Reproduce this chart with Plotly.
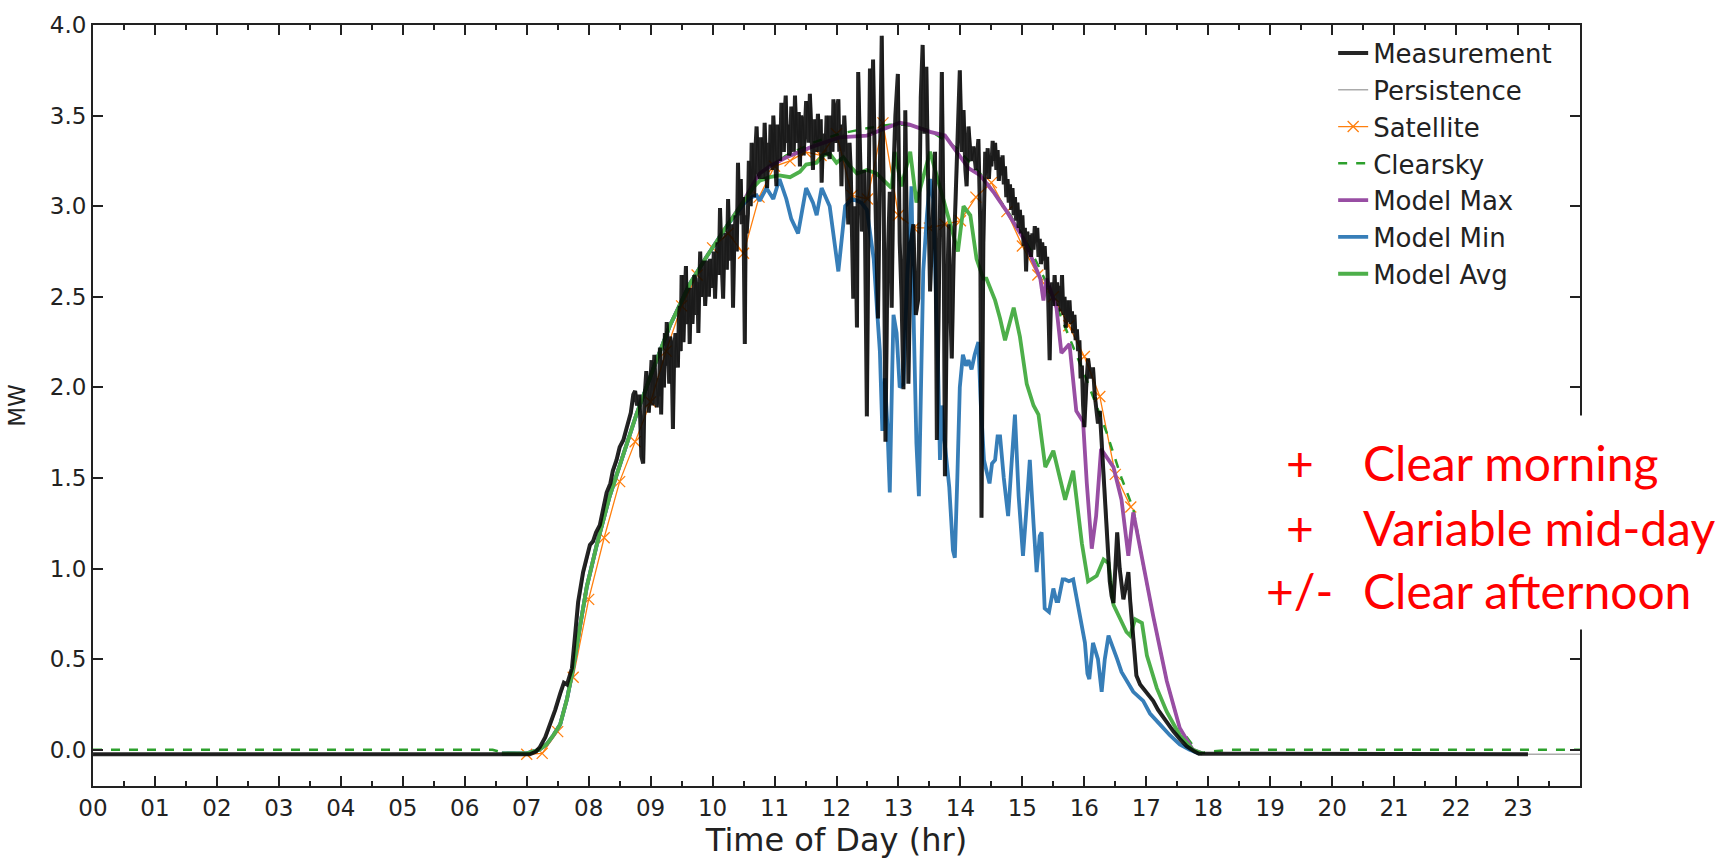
import plotly.graph_objects as go

# ---------------- data ----------------
hour_labels = ["%02d" % h for h in range(24)]

meas_hours = [0.0, 7.05, 7.15, 7.21, 7.30, 7.38, 7.46, 7.54, 7.60, 7.65, 7.70, 7.73, 7.78, 7.83, 7.91, 7.97,
              8.02, 8.07, 8.12, 8.18, 8.24, 8.29, 8.35, 8.39, 8.45, 8.50, 8.56, 8.61, 8.68, 8.72, 8.75, 8.78,
              8.82, 8.85, 8.88, 8.90, 8.93, 8.97,
              9.00, 9.015, 9.03, 9.045, 9.06, 9.08, 9.10, 9.12, 9.135, 9.15, 9.17, 9.185, 9.20, 9.215, 9.23,
              9.245, 9.26, 9.28, 9.30, 9.315, 9.33, 9.345, 9.36, 9.38, 9.40, 9.42, 9.44, 9.455, 9.47, 9.485,
              9.50, 9.515, 9.53, 9.55, 9.57, 9.585, 9.60, 9.615, 9.63, 9.645, 9.66, 9.675, 9.69, 9.705, 9.72,
              9.74, 9.755, 9.77, 9.785, 9.80, 9.82, 9.84, 9.86, 9.88, 9.90, 9.92, 9.94, 9.96, 9.98, 10.00,
              10.02, 10.04, 10.06, 10.08, 10.10, 10.12, 10.145, 10.17, 10.19, 10.21, 10.23, 10.25, 10.27,
              10.29, 10.31, 10.33, 10.35, 10.37, 10.39, 10.41, 10.425, 10.44, 10.455, 10.47, 10.495, 10.52,
              10.535, 10.55, 10.57, 10.585, 10.60, 10.615, 10.63, 10.65, 10.67, 10.69, 10.71, 10.735, 10.76,
              10.78, 10.80, 10.82, 10.84, 10.86, 10.88, 10.90, 10.92, 10.935, 10.95, 10.965, 10.98, 11.005,
              11.03, 11.05, 11.07, 11.09, 11.11, 11.13, 11.15, 11.165, 11.18, 11.20, 11.22, 11.235, 11.25,
              11.27, 11.29, 11.31, 11.33, 11.35, 11.37, 11.39, 11.41, 11.43, 11.45, 11.47, 11.49, 11.51,
              11.53, 11.55, 11.57, 11.595, 11.62, 11.64, 11.66, 11.68, 11.70, 11.715, 11.73, 11.745, 11.76,
              11.78, 11.80, 11.82, 11.84, 11.865, 11.89, 11.905, 11.92, 11.935, 11.95, 11.97, 11.99, 12.01,
              12.03, 12.045, 12.06, 12.08, 12.095, 12.11, 12.125, 12.14, 12.155, 12.17, 12.19, 12.21, 12.23,
              12.27, 12.30, 12.33, 12.35, 12.38,
              12.41, 12.45, 12.49, 12.52, 12.54, 12.57, 12.59, 12.63, 12.67, 12.70, 12.73, 12.76, 12.79, 12.82,
              12.86, 12.89, 12.92, 12.95, 12.99, 13.02, 13.05, 13.08, 13.11, 13.14, 13.16, 13.20, 13.24, 13.28,
              13.32, 13.36, 13.39, 13.42, 13.45, 13.48, 13.51, 13.55, 13.59, 13.62, 13.64, 13.67, 13.70, 13.73,
              13.75, 13.78, 13.81, 13.84, 13.86, 13.89, 13.93, 13.96, 13.99, 14.02, 14.05, 14.08, 14.10, 14.13,
              14.17, 14.21, 14.25, 14.29, 14.32, 14.34, 14.37,
              14.40, 14.42, 14.44, 14.46, 14.48, 14.50, 14.52, 14.54, 14.56, 14.58, 14.60, 14.62, 14.64, 14.66,
              14.68, 14.70, 14.72, 14.74, 14.76, 14.78, 14.80, 14.82, 14.84, 14.86, 14.88, 14.90, 14.92, 14.94,
              14.96, 14.98, 15.00, 15.02, 15.04, 15.06, 15.08, 15.10, 15.12, 15.14, 15.16, 15.18, 15.20, 15.22,
              15.24, 15.26, 15.28, 15.30, 15.32, 15.34, 15.36, 15.38, 15.40, 15.42, 15.44, 15.46, 15.48, 15.50,
              15.52, 15.54, 15.56, 15.58, 15.60, 15.62, 15.64, 15.66, 15.68, 15.70, 15.72, 15.74, 15.76, 15.78,
              15.80, 15.82, 15.84, 15.86, 15.88, 15.90, 15.92, 15.94, 15.96, 15.98, 16.00,
              16.03, 16.06, 16.10, 16.14, 16.17, 16.19, 16.22, 16.25, 16.28, 16.31, 16.36, 16.41, 16.44, 16.47,
              16.50, 16.53, 16.57, 16.60, 16.63, 16.67, 16.71, 16.74, 16.76, 16.80, 16.84, 16.90, 16.95, 17.03,
              17.11, 17.19, 17.27, 17.35, 17.44, 17.54, 17.65, 17.78, 17.85, 23.16]
meas_mw = [-0.025, -0.025, -0.01, 0.013, 0.07, 0.14, 0.22, 0.31, 0.37, 0.36, 0.42, 0.45, 0.63, 0.815, 0.98, 1.06,
           1.13, 1.15, 1.20, 1.24, 1.33, 1.42, 1.47, 1.54, 1.60, 1.67, 1.71, 1.78, 1.86, 1.96, 1.98, 1.90,
           1.96, 1.62, 1.58, 1.93, 2.09, 1.86,
           2.05, 2.15, 1.90, 2.10, 2.18, 2.00, 1.89, 2.05, 1.95, 2.22, 1.85, 2.15, 2.10, 2.00, 2.30,
           2.12, 2.36, 2.15, 2.02, 2.28, 2.25, 2.05, 1.77, 2.20, 2.30, 2.15, 2.11, 2.38, 2.45, 2.20,
           2.62, 2.40, 2.25, 2.50, 2.67, 2.35, 2.40, 2.55, 2.24, 2.45, 2.55, 2.35, 2.48, 2.62, 2.60,
           2.40, 2.58, 2.30, 2.55, 2.75, 2.50, 2.55, 2.70, 2.45, 2.60, 2.70, 2.50, 2.71, 2.60, 2.55,
           2.75, 2.49, 2.70, 2.80, 2.62, 2.99, 2.70, 2.49, 2.80, 2.85, 2.65, 3.04, 2.80,
           2.70, 2.90, 2.44, 2.80, 2.95, 2.75, 3.24, 3.00, 2.95, 3.15, 2.90, 3.05, 2.24,
           2.95, 2.85, 2.96, 3.25, 3.20, 3.00, 3.35, 3.18, 3.05, 3.30, 3.44, 3.20, 3.15,
           3.38, 3.35, 3.15, 3.46, 3.25, 3.10, 3.35, 3.22, 3.45, 3.40, 3.20, 3.50, 3.30,
           3.11, 3.45, 3.40, 3.25, 3.57, 3.35, 3.30, 3.52, 3.61, 3.35, 3.45, 3.28, 3.30,
           3.55, 3.50, 3.30, 3.61, 3.40, 3.35, 3.52, 3.22, 3.50, 3.45, 3.28, 3.39, 3.58,
           3.55, 3.35, 3.62, 3.40, 3.20, 3.48, 3.40, 3.30, 3.51, 3.35, 3.30, 3.48, 3.13,
           3.35, 3.40, 3.28, 3.50, 3.35, 3.26, 3.50, 3.45, 3.30, 3.59, 3.40, 3.35, 3.55,
           3.59, 3.30, 3.45, 3.11, 3.40, 3.30, 3.50, 3.39, 3.20, 3.10, 2.90, 3.35, 3.20,
           2.49, 3.00, 2.33, 3.74, 3.30,
           2.86, 3.20, 1.84, 3.10, 3.76, 3.40, 3.81, 3.00, 2.38, 3.20, 3.94, 3.10, 1.70, 2.62,
           3.08, 2.44, 3.20, 3.50, 3.73, 2.80, 2.49, 1.99, 3.53, 2.70, 2.02, 2.80, 2.90, 2.40,
           2.49, 3.60, 3.89, 3.40, 3.77, 3.10, 2.53, 2.90, 3.30, 1.71, 2.16, 3.00, 3.74, 2.80,
           1.51, 2.40, 2.90, 2.40, 2.16, 2.71, 3.10, 3.40, 3.75, 3.30, 3.53, 3.20, 3.11, 3.44,
           3.25, 3.33, 3.20, 3.37, 2.90, 1.28, 2.80,
           3.30, 3.18, 3.32, 3.15, 3.28, 3.22, 3.36, 3.25, 3.35, 3.20, 3.31, 3.14, 3.27, 3.17,
           3.28, 3.12, 3.22, 3.05, 3.15, 3.02, 3.12, 2.98, 3.10, 2.95, 3.05, 2.92, 3.02, 2.88,
           2.98, 2.85, 2.95, 2.78, 2.88, 2.64, 2.86, 2.75, 2.84, 2.72, 2.85, 2.76, 2.89, 2.80,
           2.88, 2.72, 2.82, 2.68, 2.80, 2.70, 2.78, 2.65, 2.72, 2.50, 2.15, 2.48, 2.58, 2.45,
           2.62, 2.48, 2.58, 2.45, 2.56, 2.42, 2.62, 2.40, 2.50, 2.33, 2.48, 2.36, 2.48, 2.35,
           2.42, 2.30, 2.40, 2.26, 2.32, 2.20, 2.26, 2.05, 2.12, 1.90, 1.78,
           2.00, 2.16, 2.05, 2.11, 1.95, 1.89, 1.80, 1.87, 1.70, 1.47, 1.20, 0.93, 0.85, 0.81,
           1.00, 1.20, 1.00, 0.90, 0.83, 0.90, 0.98, 0.82, 0.74, 0.55, 0.41, 0.36, 0.34, 0.30,
           0.27, 0.22, 0.18, 0.14, 0.10, 0.06, 0.02, -0.01, -0.022, -0.025]

sat_hours = [7.0, 7.25, 7.5, 7.75, 8.0, 8.25, 8.5, 8.75, 9.0, 9.25, 9.5, 9.75, 10.0, 10.25, 10.5, 10.75,
             11.0, 11.25, 11.5, 11.75, 12.0, 12.25, 12.5, 12.75, 13.0, 13.25, 13.5, 13.75, 14.0, 14.25,
             14.5, 14.75, 15.0, 15.25, 15.5, 15.75, 16.0, 16.25, 16.5, 16.75]
sat_mw = [-0.025, -0.02, 0.10, 0.40, 0.83, 1.17, 1.48, 1.70, 1.92, 2.20, 2.45, 2.62, 2.77, 2.85, 2.74, 3.05,
          3.22, 3.25, 3.30, 3.28, 3.40, 3.06, 3.04, 3.46, 2.95, 2.88, 2.88, 2.90, 2.92, 3.05,
          3.13, 2.97, 2.78, 2.62, 2.50, 2.34, 2.17, 1.95, 1.52, 1.34]

clear_hours = [0.0, 6.45, 6.6, 7.0, 7.2, 7.32, 7.43, 7.54, 7.65, 7.75, 7.86, 7.97, 8.13, 8.34, 8.56, 8.77,
               9.04, 9.31, 9.63, 9.90, 10.25, 10.52, 10.76, 11.19, 11.62, 12.05, 12.49, 12.86, 13.10, 13.50,
               13.94, 14.32, 14.75, 15.02, 15.29, 15.55, 15.80, 16.05, 16.36, 16.60, 16.79, 16.95, 17.11,
               17.33, 17.54, 17.85, 18.05, 18.35, 24.0]
clear_mw = [0.0, 0.0, -0.015, -0.02, 0.0, 0.03, 0.08, 0.14, 0.28, 0.45, 0.68, 0.90, 1.13, 1.40, 1.63, 1.85,
            2.10, 2.34, 2.57, 2.72, 2.90, 3.03, 3.18, 3.28, 3.35, 3.40, 3.43, 3.45, 3.45, 3.42,
            3.32, 3.18, 2.98, 2.83, 2.65, 2.45, 2.24, 2.03, 1.75, 1.50, 1.33, 1.02, 0.74,
            0.38, 0.12, -0.02, -0.01, 0.0, 0.0]

max_hours = [6.6, 7.0, 7.2, 7.32, 7.43, 7.54, 7.65, 7.75, 7.86, 7.97, 8.13, 8.34, 8.56, 8.77, 9.04, 9.31,
             9.63, 9.90, 10.25, 10.52, 10.65, 10.76, 10.92, 11.19, 11.62, 12.05, 12.49, 12.86, 13.02, 13.18,
             13.51, 13.75, 13.94, 14.13, 14.32, 14.53, 14.75, 15.02, 15.18, 15.29, 15.34, 15.39, 15.55, 15.63,
             15.76, 15.87, 15.98, 16.04, 16.12, 16.19, 16.27, 16.47, 16.60, 16.71, 16.79, 16.95, 17.11, 17.33,
             17.54, 17.75, 17.9]
max_mw = [-0.02, -0.02, 0.0, 0.03, 0.08, 0.14, 0.28, 0.45, 0.68, 0.90, 1.13, 1.40, 1.63, 1.85, 2.10, 2.34,
          2.57, 2.72, 2.90, 3.04, 3.12, 3.18, 3.22, 3.27, 3.33, 3.38, 3.39, 3.44, 3.46, 3.45,
          3.41, 3.39, 3.30, 3.21, 3.17, 3.08, 2.97, 2.82, 2.69, 2.60, 2.48, 2.60, 2.44, 2.19,
          2.24, 1.87, 1.81, 1.47, 1.11, 1.29, 1.66, 1.56, 1.38, 1.07, 1.31, 1.02, 0.74, 0.38,
          0.12, 0.0, -0.02]

min_hours = [6.6, 7.0, 7.2, 7.32, 7.43, 7.54, 7.65, 7.75, 7.86, 7.97, 8.13, 8.34, 8.56, 8.77, 9.04, 9.31,
             9.63, 9.90, 10.25, 10.52, 10.63, 10.71, 10.76, 10.87, 10.98, 11.08, 11.19, 11.27, 11.38, 11.51,
             11.62, 11.68, 11.76, 11.84, 11.89, 12.03, 12.14, 12.25, 12.40, 12.49, 12.55, 12.60, 12.66,
             12.70, 12.74, 12.78, 12.82, 12.86, 12.90, 12.92, 12.97, 13.02, 13.08, 13.14, 13.19, 13.21,
             13.25, 13.29, 13.33, 13.37, 13.40, 13.46, 13.51, 13.56, 13.60, 13.64, 13.67, 13.70, 13.73,
             13.77, 13.82, 13.88, 13.91, 13.95, 13.99, 14.04, 14.09, 14.13, 14.18, 14.23, 14.29, 14.33,
             14.38, 14.42, 14.47, 14.51, 14.56, 14.60, 14.64, 14.70, 14.77, 14.82, 14.88, 14.94, 15.01,
             15.06, 15.12, 15.18, 15.23, 15.28, 15.31, 15.36, 15.43, 15.50, 15.55, 15.58, 15.65, 15.69,
             15.75, 15.82, 15.88, 15.93, 16.01, 16.05, 16.08, 16.14, 16.18, 16.22, 16.28, 16.33, 16.39,
             16.47, 16.53, 16.60, 16.68, 16.79, 16.95, 17.06, 17.22, 17.38, 17.54, 17.70, 17.85]
min_mw = [-0.02, -0.02, 0.0, 0.03, 0.08, 0.14, 0.28, 0.45, 0.68, 0.90, 1.13, 1.40, 1.63, 1.85, 2.10, 2.34,
          2.57, 2.72, 2.90, 3.02, 3.05, 3.06, 3.03, 3.10, 3.04, 3.15, 3.04, 2.93, 2.85, 3.10,
          3.02, 2.95, 3.10, 3.04, 3.00, 2.64, 3.00, 3.04, 3.02, 2.98, 2.85, 2.71, 2.40,
          2.20, 1.76, 2.05, 1.80, 1.42, 2.10, 2.40, 2.30, 2.00, 2.02, 2.60, 2.90, 3.11,
          2.30, 1.69, 1.40, 2.10, 2.64, 2.95, 3.15, 3.04, 2.60, 2.10, 1.60, 1.90, 1.75,
          1.60, 1.45, 1.10, 1.06, 1.50, 2.00, 2.18, 2.12, 2.15, 2.10, 2.18, 2.25, 1.90,
          1.60, 1.54, 1.47, 1.58, 1.60, 1.73, 1.73, 1.50, 1.29, 1.55, 1.85, 1.40, 1.07,
          1.30, 1.60, 1.25, 0.98, 1.18, 1.20, 0.78, 0.76, 0.89, 0.82, 0.82, 0.94, 0.94,
          0.93, 0.94, 0.82, 0.74, 0.59, 0.42, 0.39, 0.59, 0.55, 0.50, 0.32, 0.50, 0.63,
          0.56, 0.50, 0.43, 0.38, 0.32, 0.27, 0.20, 0.14, 0.08, 0.03, 0.0, -0.02]

avg_hours = [6.6, 7.0, 7.2, 7.32, 7.43, 7.54, 7.65, 7.75, 7.86, 7.97, 8.13, 8.34, 8.56, 8.77, 9.04, 9.31,
             9.63, 9.90, 10.25, 10.52, 10.65, 10.76, 10.92, 11.08, 11.25, 11.41, 11.51, 11.68, 11.78, 11.89,
             12.00, 12.11, 12.22, 12.33, 12.49, 12.65, 12.81, 12.89, 12.94, 13.05, 13.19, 13.29, 13.51,
             13.61, 13.75, 13.88, 13.96, 14.05, 14.16, 14.26, 14.37, 14.42, 14.56, 14.64, 14.72, 14.86,
             14.96, 15.07, 15.18, 15.26, 15.37, 15.50, 15.58, 15.69, 15.82, 15.90, 15.96, 16.06, 16.20,
             16.31, 16.39, 16.47, 16.68, 16.74, 16.82, 16.93, 17.01, 17.17, 17.33, 17.54, 17.75, 17.9]
avg_mw = [-0.02, -0.02, 0.0, 0.03, 0.08, 0.14, 0.28, 0.45, 0.68, 0.90, 1.13, 1.40, 1.63, 1.85, 2.10, 2.34,
          2.57, 2.72, 2.90, 3.04, 3.10, 3.14, 3.16, 3.17, 3.16, 3.19, 3.23, 3.24, 3.28, 3.29,
          3.24, 3.27, 3.22, 3.18, 3.20, 3.18, 3.13, 3.10, 3.30, 3.11, 3.30, 3.02, 3.30,
          3.18, 3.00, 2.84, 2.75, 3.00, 2.95, 2.71, 2.60, 2.60, 2.48, 2.38, 2.26, 2.44,
          2.28, 2.02, 1.90, 1.85, 1.56, 1.65, 1.54, 1.38, 1.54, 1.33, 1.14, 0.93, 0.96,
          1.05, 1.03, 0.80, 0.65, 0.63, 0.72, 0.70, 0.52, 0.34, 0.21, 0.08, 0.0, -0.02]

# Persistence forecast: the measured values carried one minute forward, held to midnight
persist_hours = [h + 1.0 / 60.0 for h in meas_hours] + [24.0]
persist_mw = meas_mw + [meas_mw[-1]]

legend_font = dict(family="DejaVu Sans", size=26, color="#222")
tick_font = dict(family="DejaVu Sans", size=23, color="#222")

fig = go.Figure()

fig.add_trace(go.Scatter(x=persist_hours, y=persist_mw, mode="lines", name="Persistence", legendrank=2,
                         line=dict(color="rgba(150,150,150,0.8)", width=1.5)))
fig.add_trace(go.Scatter(x=sat_hours, y=sat_mw, mode="lines+markers", name="Satellite", legendrank=3,
                         line=dict(color="#ff7f0e", width=1.3),
                         marker=dict(symbol="x-thin-open", size=11, color="#ff7f0e",
                                     line=dict(color="rgba(255,127,14,0.75)", width=1.3))))
fig.add_trace(go.Scatter(x=clear_hours, y=clear_mw, mode="lines", name="Clearsky", legendrank=4,
                         line=dict(color="#2ca02c", width=2.5, dash="dash")))
fig.add_trace(go.Scatter(x=max_hours, y=max_mw, mode="lines", name="Model Max", legendrank=5,
                         line=dict(color="#984ea3", width=3.8)))
fig.add_trace(go.Scatter(x=min_hours, y=min_mw, mode="lines", name="Model Min", legendrank=6,
                         line=dict(color="#377eb8", width=3.8)))
fig.add_trace(go.Scatter(x=avg_hours, y=avg_mw, mode="lines", name="Model Avg", legendrank=7,
                         line=dict(color="#4daf4a", width=3.8)))
fig.add_trace(go.Scatter(x=meas_hours, y=meas_mw, mode="lines", name="Measurement", legendrank=1,
                         line=dict(color="rgba(0,0,0,0.85)", width=4)))

axis_common = dict(showline=True, linewidth=2, linecolor="#222", mirror="ticks", ticks="inside",
                   tickcolor="#222", tickwidth=1.5, showgrid=False, zeroline=False, tickfont=tick_font)

fig.update_xaxes(range=[0, 24], tickmode="array", tickvals=list(range(24)), ticktext=hour_labels,
                 ticklen=10,
                 minor=dict(ticks="inside", ticklen=5, tickwidth=1.5, tickcolor="#222",
                            tickvals=[h + 0.5 for h in range(24)], showgrid=False),
                 title=dict(text="Time of Day (hr)", font=dict(family="DejaVu Sans", size=32, color="#222"),
                            standoff=6),
                 **axis_common)
fig.update_yaxes(range=[-0.2, 4.0], dtick=0.5, tick0=0, tickformat=".1f", ticklen=10,
                 title=dict(text="MW", font=dict(family="DejaVu Sans", size=23, color="#222"), standoff=18),
                 **axis_common)

# white box that interrupts the right spine behind the notes
fig.add_shape(type="rect", xref="paper", yref="paper", x0=0.79, x1=1.11, y0=0.2057, y1=0.487,
              fillcolor="white", line=dict(width=0), layer="above")

note_symbols = ["+", "+", "+/-"]
note_texts = ["Clear morning", "Variable mid-day", "Clear afternoon"]
note_y = [0.4245, 0.3395, 0.2575]
red_font = dict(family="Lato", size=48, color="#ff0000")
for sym, txt, yy in zip(note_symbols, note_texts, note_y):
    fig.add_annotation(x=0.8115, y=yy, xref="paper", yref="paper", text=sym, showarrow=False,
                       xanchor="center", yanchor="middle", font=red_font)
    fig.add_annotation(x=0.8530, y=yy, xref="paper", yref="paper", text=txt, showarrow=False,
                       xanchor="left", yanchor="middle", font=red_font)

fig.update_layout(
    width=1733, height=864,
    margin=dict(l=93, r=153, t=18, b=78),
    paper_bgcolor="white", plot_bgcolor="white",
    showlegend=True,
    legend=dict(x=0.834, y=0.994, xanchor="left", yanchor="top", bgcolor="rgba(0,0,0,0)",
                borderwidth=0, font=legend_font, tracegroupgap=0),
)

fig.write_html("out.html", config={"displayModeBar": False},
               post_script="document.body.style.margin='0';")
